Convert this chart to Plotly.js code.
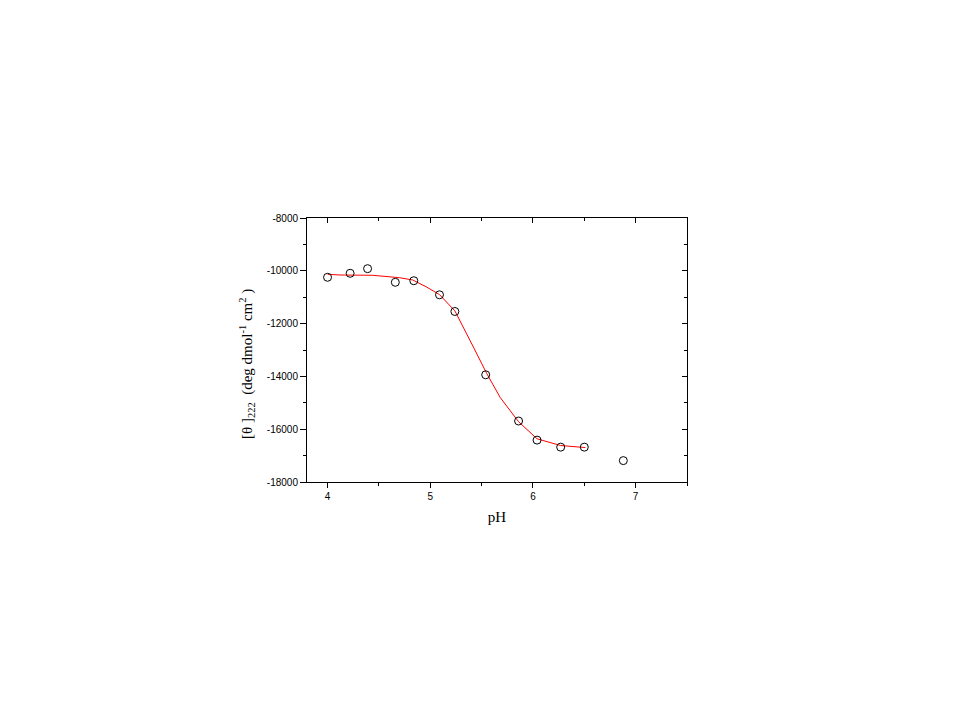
<!DOCTYPE html>
<html>
<head>
<meta charset="utf-8">
<script src="https://cdn.plot.ly/plotly-3.0.1.min.js"></script>
<style>html,body{margin:0;padding:0;background:#fff;}#chart{width:959px;height:719px;}</style>
</head>
<body>
<div id="chart"></div>
<script>
// Measured points
const phData = [4.00, 4.22, 4.39, 4.66, 4.84, 5.09, 5.24, 5.54, 5.86, 6.04, 6.27, 6.50, 6.88];
const thetaData = [-10246, -10094, -9919, -10436, -10376, -10909, -11541, -13939, -15690, -16413, -16680, -16680, -17190];
// Fitted curve
const phFit = [4.00, 4.12, 4.44, 4.59, 4.70, 4.83, 4.96, 5.09, 5.24, 5.42, 5.55, 5.68, 5.86, 6.04, 6.27, 6.51];
const thetaFit = [-10132, -10159, -10170, -10208, -10261, -10349, -10604, -10901, -11518, -12888, -13889, -14792, -15717, -16364, -16619, -16695];
const yTickVals = [-18000, -16000, -14000, -12000, -10000, -8000];
const yTickText = ['-18000', '-16000', '-14000', '-12000', '-10000', '-8000'];
const xTickVals = [4, 5, 6, 7];
const xTickText = ['4', '5', '6', '7'];

const tickFont = {family: 'Liberation Sans, Arial, sans-serif', size: 10, color: '#000'};
const titleFont = {family: 'Liberation Serif, Times New Roman, serif', size: 15, color: '#000'};

const traces = [
  {x: phFit, y: thetaFit, mode: 'lines', line: {color: '#ff0000', width: 1}, hoverinfo: 'skip', showlegend: false},
  {x: phData, y: thetaData, mode: 'markers', marker: {symbol: 'circle-open', size: 8, color: '#000', line: {width: 1, color: '#000'}}, showlegend: false},
  {x: [4], y: [-8000], xaxis: 'x2', yaxis: 'y2', mode: 'markers', marker: {opacity: 0}, showlegend: false, hoverinfo: 'skip'}
];

const layout = {
  width: 959, height: 719,
  paper_bgcolor: '#fff', plot_bgcolor: '#fff',
  margin: {l: 307, r: 272, t: 218, b: 237, pad: 0},
  showlegend: false,
  xaxis: {
    range: [3.8, 7.5], tickvals: xTickVals, ticktext: xTickText,
    ticks: 'outside', ticklen: 5, tickwidth: 1, tickcolor: '#000',
    minor: {dtick: 0.5, ticks: 'outside', ticklen: 3, tickwidth: 1, tickcolor: '#000'},
    showline: true, linecolor: '#000', linewidth: 1, mirror: true,
    showgrid: false, zeroline: false, tickfont: tickFont,
    title: {text: 'pH', font: titleFont, standoff: 10}
  },
  yaxis: {
    range: [-18000, -8000], tickvals: yTickVals, ticktext: yTickText,
    ticks: 'outside', ticklen: 6, tickwidth: 1, tickcolor: '#000',
    minor: {dtick: 1000, ticks: 'outside', ticklen: 3, tickwidth: 1, tickcolor: '#000'},
    showline: true, linecolor: '#000', linewidth: 1, mirror: true,
    showgrid: false, zeroline: false, tickfont: tickFont
  },
  xaxis2: {
    overlaying: 'x', side: 'top', range: [3.8, 7.5], tickvals: xTickVals,
    ticks: 'inside', ticklen: 5, tickwidth: 1, tickcolor: '#000', showticklabels: false,
    minor: {dtick: 0.5, ticks: 'inside', ticklen: 3, tickwidth: 1, tickcolor: '#000'},
    showline: false, showgrid: false, zeroline: false
  },
  yaxis2: {
    overlaying: 'y', side: 'right', range: [-18000, -8000], tickvals: yTickVals,
    ticks: 'inside', ticklen: 5, tickwidth: 1, tickcolor: '#000', showticklabels: false,
    minor: {dtick: 1000, ticks: 'inside', ticklen: 3, tickwidth: 1, tickcolor: '#000'},
    showline: false, showgrid: false, zeroline: false
  },
  annotations: [{
    text: '[θ ]<sub>222</sub>  (deg dmol<sup>-1</sup> cm<sup>2</sup> )',
    font: titleFont, textangle: -90, showarrow: false,
    xref: 'paper', yref: 'paper', x: 0, y: 0.5,
    xanchor: 'center', yanchor: 'middle', xshift: -60, yshift: -14
  }]
};

Plotly.newPlot('chart', traces, layout, {displayModeBar: false, staticPlot: true});
</script>
</body>
</html>
